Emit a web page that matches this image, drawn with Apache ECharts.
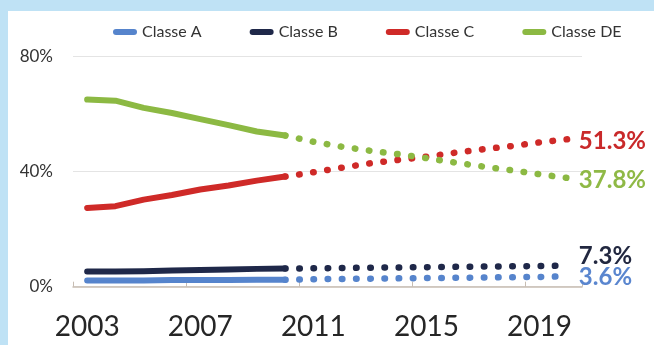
<!DOCTYPE html>
<html>
<head>
<meta charset="utf-8">
<script src="https://cdn.jsdelivr.net/npm/echarts@6/dist/echarts.min.js"></script>
<style>
html,body{margin:0;padding:0;background:#bfe2f5;}
#chart{width:654px;height:345px;}
</style>
</head>
<body>
<div id="chart"></div>
<script>
// Categories (years)
var years = ['2003','2004','2005','2006','2007','2008','2009','2010','2011','2012','2013','2014','2015','2016','2017','2018','2019','2020'];
// Y axis tick values (%)
var yTicks = [0, 40, 80];
// Observed values 2003-2010 (%)
var classeA_hist  = [2.2, 2.2, 2.2, 2.3, 2.3, 2.3, 2.4, 2.4];
var classeB_hist  = [5.3, 5.3, 5.4, 5.6, 5.8, 6.0, 6.2, 6.3];
var classeC_hist  = [27.4, 28.0, 30.3, 31.9, 33.8, 35.2, 36.9, 38.3];
var classeDE_hist = [65.1, 64.7, 62.2, 60.4, 58.3, 56.2, 54.0, 52.6];
// Projected values 2010-2020 (%)
var classeA_proj  = [2.4, 2.6, 2.7, 2.8, 2.9, 3.0, 3.1, 3.2, 3.3, 3.4, 3.6];
var classeB_proj  = [6.3, 6.4, 6.5, 6.6, 6.7, 6.8, 6.9, 7.0, 7.1, 7.2, 7.3];
var classeC_proj  = [38.3, 39.8, 41.4, 42.9, 44.1, 45.2, 46.6, 47.8, 48.9, 50.2, 51.3];
var classeDE_proj = [52.6, 50.4, 48.7, 47.3, 46.1, 44.7, 43.2, 41.8, 40.5, 39.1, 37.8];
var names = ['Classe A', 'Classe B', 'Classe C', 'Classe DE'];

var colors = {
  'Classe A': '#5684cc',
  'Classe B': '#1f2849',
  'Classe C': '#cf2a28',
  'Classe DE': '#8cb943'
};
var labelColors = {
  'Classe A': '#5a86cf',
  'Classe B': '#222840',
  'Classe C': '#c9292a',
  'Classe DE': '#8fb946'
};
var labelOffsets = {
  'Classe A': [0, 1],
  'Classe B': [0, -9],
  'Classe C': [0, 2.5],
  'Classe DE': [0, 2]
};

var histStart = years.indexOf('2003');
var projStart = years.indexOf('2010');

function padHist(arr) {
  var out = [];
  for (var i = 0; i < years.length; i++) {
    var k = i - histStart;
    out.push(k >= 0 && k < arr.length ? arr[k] : null);
  }
  return out;
}
function padProj(arr) {
  var out = [];
  for (var i = 0; i < years.length; i++) {
    var k = i - projStart;
    out.push(k >= 0 && k < arr.length ? arr[k] : null);
  }
  return out;
}

var hist = {'Classe A': classeA_hist, 'Classe B': classeB_hist, 'Classe C': classeC_hist, 'Classe DE': classeDE_hist};
var proj = {'Classe A': classeA_proj, 'Classe B': classeB_proj, 'Classe C': classeC_proj, 'Classe DE': classeDE_proj};

var series = [];
names.forEach(function (n) {
  series.push({
    name: n,
    type: 'line',
    data: padHist(hist[n]),
    symbol: 'none',
    connectNulls: false,
    lineStyle: {color: colors[n], width: 6, cap: 'round', join: 'round'},
    itemStyle: {color: colors[n]},
    z: 3
  });
  series.push({
    name: n,
    type: 'line',
    data: padProj(proj[n]),
    symbol: 'none',
    lineStyle: {color: colors[n], width: 6.5, type: [0.5, 13.7], cap: 'round'},
    itemStyle: {color: colors[n]},
    endLabel: {
      show: true,
      formatter: function (p) {
        var v = Array.isArray(p.value) ? p.value[1] : p.value;
        return v.toFixed(1) + '%';
      },
      color: labelColors[n],
      fontFamily: 'Lato',
      fontWeight: 'bold',
      fontSize: 24,
      distance: 11,
      offset: labelOffsets[n]
    },
    z: 3
  });
});

var chart = echarts.init(document.getElementById('chart'), null, {renderer: 'canvas'});
chart.setOption({
  backgroundColor: '#bfe2f5',
  animation: false,
  graphic: [{
    type: 'rect',
    z: -10,
    shape: {x: 8, y: 11, width: 646, height: 334},
    style: {fill: '#ffffff'}
  }],
  legend: {
    data: names,
    left: 108,
    top: 19,
    itemGap: 48,
    itemWidth: 24,
    itemHeight: 6,
    icon: 'path://M3,0H21A3,3,0,0,1,21,6H3A3,3,0,0,1,3,0Z',
    textStyle: {color: '#333333', fontSize: 16, fontFamily: 'Lato'}
  },
  grid: {left: 73, right: 72, top: 56.7, bottom: 58.3, containLabel: false},
  xAxis: {
    type: 'category',
    data: years,
    boundaryGap: true,
    axisLine: {show: true, lineStyle: {color: '#c7bdb3', width: 1.5}},
    axisTick: {show: true, inside: true, length: 5, interval: 3, lineStyle: {color: '#c7bdb3'}},
    axisLabel: {interval: 3, color: '#262626', fontSize: 28, fontFamily: 'Lato', margin: 26},
    splitLine: {show: false}
  },
  yAxis: {
    type: 'value',
    min: yTicks[0],
    max: yTicks[yTicks.length - 1],
    interval: yTicks[1] - yTicks[0],
    axisLine: {show: false},
    axisTick: {show: false},
    axisLabel: {formatter: '{value}%', color: '#333333', fontSize: 17, fontFamily: 'Lato', margin: 20},
    splitLine: {show: true, lineStyle: {color: '#e4e4e4', width: 1}}
  },
  series: series
});
</script>
</body>
</html>
